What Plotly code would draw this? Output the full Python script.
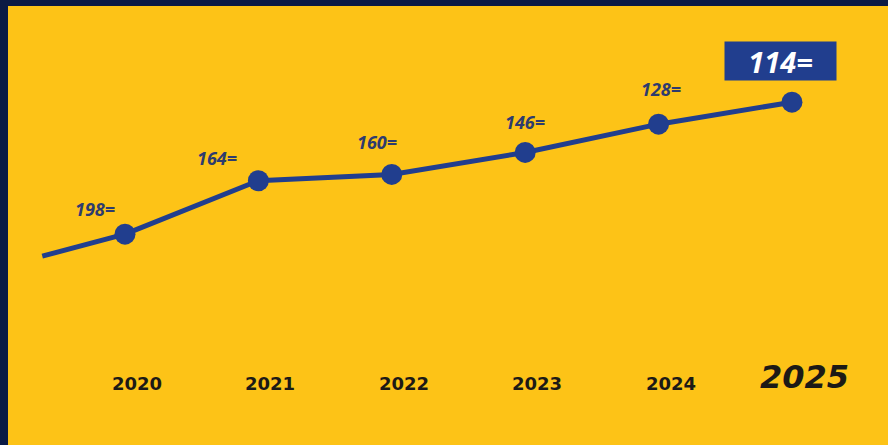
import plotly.graph_objects as go

# ---- data ----
years = [2020, 2021, 2022, 2023, 2024, 2025]
ranks = [198, 164, 160, 146, 128, 114]
rank_labels = ["198=", "164=", "160=", "146=", "128=", "114="]
year_labels = ["2020", "2021", "2022", "2023", "2024", "2025"]
# short lead-in segment entering from the left edge
lead_x = [2019.38, 2020]
lead_y = [212, 198]

# ---- style / layout constants ----
YELLOW = "#FDC317"
NAVY_BG = "#0B1A44"
LINE_BLUE = "#213E8E"
LABEL_COL = "#2E3B6E"
label_shifts = [(-30, 25), (-41, 23), (-15, 32), (0, 30), (2, 35)]

fig = go.Figure()
fig.add_trace(go.Scatter(x=lead_x, y=lead_y, mode="lines",
                         line=dict(color=LINE_BLUE, width=5), hoverinfo="skip",
                         showlegend=False))
fig.add_trace(go.Scatter(x=years, y=ranks, mode="lines+markers",
                         line=dict(color=LINE_BLUE, width=5),
                         marker=dict(size=21, color=LINE_BLUE),
                         showlegend=False))

annotations = []
for i in range(len(years) - 1):
    dx, dy = label_shifts[i]
    annotations.append(dict(x=years[i], y=ranks[i], text=rank_labels[i],
                            xshift=dx, yshift=dy, showarrow=False,
                            font=dict(family="Open Sans", size=18, color=LABEL_COL,
                                      style="italic", weight="bold")))
# highlighted last value in a box
annotations.append(dict(x=years[-1], y=ranks[-1], text=rank_labels[-1],
                        xshift=-11, yshift=41, showarrow=False,
                        bgcolor=LINE_BLUE, width=107, height=34, borderpad=2,
                        font=dict(family="Open Sans", size=29, color="white",
                                  style="italic", weight="bold")))
# year labels
for i, yl in enumerate(year_labels):
    last = i == len(year_labels) - 1
    annotations.append(dict(x=years[i], y=0.155 if last else 0.141, yref="paper",
                            yanchor="middle", xanchor="center",
                            text=yl, xshift=13 if last else 12, showarrow=False,
                            font=dict(family="DejaVu Sans", size=32 if last else 18,
                                      color="#1C1A16", weight="bold",
                                      style="italic" if last else "normal")))

fig.update_layout(
    width=888, height=445,
    margin=dict(l=8, r=0, t=6, b=0),
    paper_bgcolor=NAVY_BG, plot_bgcolor=YELLOW,
    xaxis=dict(range=[2019.123, 2025.72], visible=False, fixedrange=True),
    yaxis=dict(range=[332.2, 52.8], visible=False, fixedrange=True),
    annotations=annotations,
    showlegend=False,
)

fig.write_html(
    "out.html",
    config={"displayModeBar": False},
    post_script="document.body.style.margin='0';document.body.style.background='%s';" % NAVY_BG,
)
